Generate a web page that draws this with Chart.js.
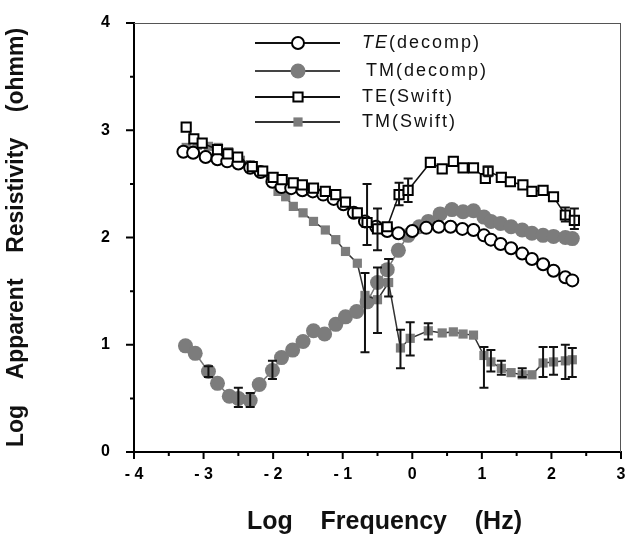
<!DOCTYPE html>
<html>
<head>
<meta charset="utf-8">
<script src="https://cdn.jsdelivr.net/npm/chart.js@4.4.0/dist/chart.umd.min.js"></script>
<style>
  html, body { margin: 0; padding: 0; background: #fff; }
</style>
</head>
<body>
<canvas id="mt_chart" width="631" height="549"></canvas>
<script>
// Log frequency (Hz) for each series
const teDecompX = [-3.29, -3.15, -2.97, -2.8, -2.66, -2.5, -2.33, -2.18, -2.01, -1.88, -1.74, -1.58, -1.43, -1.28, -1.13, -0.99, -0.84, -0.68, -0.52, -0.36, -0.2, 0.0, 0.2, 0.38, 0.55, 0.72, 0.88, 1.03, 1.13, 1.27, 1.42, 1.58, 1.72, 1.88, 2.03, 2.2, 2.3];
const teDecompY = [2.80, 2.79, 2.75, 2.73, 2.71, 2.69, 2.65, 2.61, 2.52, 2.47, 2.46, 2.44, 2.43, 2.40, 2.36, 2.31, 2.23, 2.15, 2.10, 2.06, 2.04, 2.06, 2.09, 2.10, 2.10, 2.08, 2.07, 2.02, 1.98, 1.94, 1.90, 1.85, 1.80, 1.75, 1.69, 1.63, 1.60];

const tmDecompX = [-3.26, -3.12, -2.93, -2.8, -2.63, -2.5, -2.33, -2.2, -2.01, -1.88, -1.72, -1.57, -1.42, -1.26, -1.1, -0.96, -0.8, -0.65, -0.5, -0.36, -0.2, -0.06, 0.1, 0.23, 0.4, 0.57, 0.73, 0.88, 1.03, 1.13, 1.27, 1.42, 1.58, 1.72, 1.88, 2.03, 2.2, 2.3];
const tmDecompY = [0.99, 0.92, 0.75, 0.64, 0.52, 0.50, 0.48, 0.63, 0.76, 0.88, 0.95, 1.03, 1.13, 1.10, 1.19, 1.26, 1.31, 1.40, 1.58, 1.70, 1.88, 2.02, 2.10, 2.15, 2.22, 2.26, 2.24, 2.25, 2.19, 2.15, 2.13, 2.10, 2.07, 2.04, 2.02, 2.01, 2.00, 1.99];

const teSwiftX = [-3.25, -3.14, -3.02, -2.8, -2.65, -2.51, -2.3, -2.15, -2.0, -1.87, -1.71, -1.58, -1.42, -1.25, -1.1, -0.96, -0.79, -0.65, -0.5, -0.36, -0.19, -0.06, 0.26, 0.43, 0.59, 0.73, 0.88, 1.05, 1.09, 1.28, 1.41, 1.59, 1.72, 1.88, 2.03, 2.2, 2.33];
const teSwiftY = [3.03, 2.92, 2.88, 2.82, 2.78, 2.75, 2.66, 2.62, 2.56, 2.54, 2.51, 2.49, 2.46, 2.43, 2.40, 2.33, 2.23, 2.14, 2.08, 2.10, 2.40, 2.44, 2.70, 2.64, 2.71, 2.65, 2.65, 2.55, 2.62, 2.56, 2.52, 2.49, 2.43, 2.44, 2.38, 2.21, 2.16];

const tmSwiftX = [-3.25, -3.09, -2.93, -2.79, -2.64, -2.47, -2.33, -2.18, -2.04, -1.93, -1.82, -1.71, -1.57, -1.42, -1.25, -1.1, -0.96, -0.79, -0.68, -0.5, -0.34, -0.17, -0.03, 0.23, 0.43, 0.59, 0.73, 0.88, 1.03, 1.13, 1.28, 1.42, 1.58, 1.72, 1.88, 2.03, 2.2, 2.3];
const tmSwiftY = [2.84, 2.86, 2.85, 2.84, 2.80, 2.72, 2.68, 2.61, 2.54, 2.43, 2.38, 2.29, 2.23, 2.15, 2.07, 1.98, 1.87, 1.76, 1.46, 1.42, 1.58, 0.97, 1.06, 1.13, 1.11, 1.12, 1.10, 1.09, 0.90, 0.84, 0.78, 0.74, 0.72, 0.72, 0.83, 0.84, 0.85, 0.86];

// error bars: x, low, high
const tmDecompErrX = [-2.93, -2.5, -2.33, -2.01];
const tmDecompErrLo = [0.70, 0.42, 0.42, 0.68];
const tmDecompErrHi = [0.80, 0.60, 0.55, 0.85];

const teSwiftErrX = [-0.65, -0.5, -0.19, -0.06, 1.09, 2.2, 2.33];
const teSwiftErrLo = [1.93, 1.88, 2.30, 2.33, 2.57, 2.15, 2.08];
const teSwiftErrHi = [2.50, 2.27, 2.51, 2.55, 2.66, 2.28, 2.27];

const tmSwiftErrX = [-0.68, -0.5, -0.34, -0.17, -0.03, 0.23, 1.03, 1.13, 1.28, 1.58, 1.88, 2.03, 2.2, 2.3];
const tmSwiftErrLo = [0.93, 1.11, 1.45, 0.78, 0.90, 1.05, 0.60, 0.75, 0.72, 0.70, 0.70, 0.72, 0.68, 0.70];
const tmSwiftErrHi = [1.67, 1.72, 1.80, 1.14, 1.21, 1.20, 0.98, 0.95, 0.85, 0.78, 0.98, 0.98, 1.00, 0.97];

const seriesNames = ["TE(decomp)", "TM(decomp)", "TE(Swift)", "TM(Swift)"];

const xTickMin = -4, xTickMax = 3;
const yTickMin = 0, yTickMax = 4;

const FONT = "'Liberation Sans', Arial, sans-serif";
const GRAY = "#7c7c7c";

function toPoints(xs, ys) {
  return xs.map((x, i) => ({ x: x, y: ys[i] }));
}

//--------------
//- PLUGINS -
//--------------
const errorBarsPlugin = {
  id: "errorBars",
  afterDatasetsDraw(chart) {
    const { ctx, scales } = chart;
    const sets = [
      [tmDecompErrX, tmDecompErrLo, tmDecompErrHi],
      [teSwiftErrX, teSwiftErrLo, teSwiftErrHi],
      [tmSwiftErrX, tmSwiftErrLo, tmSwiftErrHi],
    ];
    ctx.save();
    ctx.strokeStyle = "#111";
    ctx.lineWidth = 2;
    sets.forEach(([xs, lo, hi]) => {
      xs.forEach((x, i) => {
        const px = scales.x.getPixelForValue(x);
        const y1 = scales.y.getPixelForValue(lo[i]);
        const y2 = scales.y.getPixelForValue(hi[i]);
        ctx.beginPath();
        ctx.moveTo(px, y1); ctx.lineTo(px, y2);
        ctx.moveTo(px - 4.5, y1); ctx.lineTo(px + 4.5, y1);
        ctx.moveTo(px - 4.5, y2); ctx.lineTo(px + 4.5, y2);
        ctx.stroke();
      });
    });
    ctx.restore();
  }
};

const frameTicksPlugin = {
  id: "frameTicks",
  afterDraw(chart) {
    const { ctx, chartArea: a, scales } = chart;
    ctx.save();
    // thin top and right edges
    ctx.strokeStyle = "#555";
    ctx.lineWidth = 1;
    ctx.beginPath();
    ctx.moveTo(a.left, a.top + 0.5); ctx.lineTo(a.right, a.top + 0.5);
    ctx.moveTo(a.right - 0.5, a.top); ctx.lineTo(a.right - 0.5, a.bottom);
    ctx.stroke();
    // outward tick marks, longer at integers
    ctx.strokeStyle = "#000";
    ctx.lineWidth = 2;
    ctx.beginPath();
    scales.x.ticks.forEach(t => {
      const px = scales.x.getPixelForValue(t.value);
      const len = Number.isInteger(t.value) ? 7 : 4;
      ctx.moveTo(px, a.bottom); ctx.lineTo(px, a.bottom + len);
    });
    scales.y.ticks.forEach(t => {
      const py = scales.y.getPixelForValue(t.value);
      const len = Number.isInteger(t.value) ? 8 : 4;
      ctx.moveTo(a.left, py); ctx.lineTo(a.left - len, py);
    });
    ctx.stroke();
    ctx.restore();
  }
};

const insideLegendPlugin = {
  id: "insideLegend",
  afterDraw(chart) {
    const { ctx, chartArea: a } = chart;
    const rowsY = [20, 48, 74, 99];
    const lineX1 = a.left + 121, lineX2 = a.left + 206, markX = a.left + 164;
    const textX = a.left + 228;
    ctx.save();
    chart.data.datasets.forEach((ds, i) => {
      const y = a.top + rowsY[i];
      ctx.strokeStyle = i === 1 ? "#444" : ds.borderColor;
      ctx.lineWidth = 2;
      ctx.beginPath();
      ctx.moveTo(lineX1, y); ctx.lineTo(lineX2, y);
      ctx.stroke();
      const r = ds.pointRadius;
      ctx.fillStyle = ds.pointBackgroundColor;
      ctx.strokeStyle = ds.pointBorderColor;
      ctx.lineWidth = ds.pointBorderWidth;
      ctx.beginPath();
      if (ds.pointStyle === "circle") {
        ctx.arc(markX, y, r, 0, Math.PI * 2);
      } else {
        const s = Math.SQRT1_2 * r;
        ctx.rect(markX - s, y - s, 2 * s, 2 * s);
      }
      ctx.fill();
      if (ds.pointBorderWidth > 0) ctx.stroke();

      ctx.fillStyle = "#111";
      ctx.textBaseline = "middle";
      ctx.letterSpacing = "2px";
      const name = seriesNames[i];
      if (i === 0) {
        ctx.font = "italic 18px " + FONT;
        ctx.fillText("TE", textX, y);
        const w = ctx.measureText("TE").width;
        ctx.font = "18px " + FONT;
        ctx.fillText(name.slice(2), textX + w, y);
      } else {
        ctx.font = "18px " + FONT;
        ctx.fillText(name, textX + (i === 1 ? 4 : 0), y);
      }
    });
    ctx.restore();
  }
};

const datasets = [
  {
    label: seriesNames[0],
    data: toPoints(teDecompX, teDecompY),
    borderColor: "#111", borderWidth: 1.5,
    pointStyle: "circle", pointRadius: 6,
    pointBackgroundColor: "#fff", pointBorderColor: "#000", pointBorderWidth: 2,
    order: 1,
  },
  {
    label: seriesNames[1],
    data: toPoints(tmDecompX, tmDecompY),
    borderColor: "#777", borderWidth: 1.5,
    pointStyle: "circle", pointRadius: 7.5,
    pointBackgroundColor: GRAY, pointBorderColor: GRAY, pointBorderWidth: 0,
    order: 3,
  },
  {
    label: seriesNames[2],
    data: toPoints(teSwiftX, teSwiftY),
    borderColor: "#111", borderWidth: 1.5,
    pointStyle: "rect", pointRadius: 6.5,
    pointBackgroundColor: "#fff", pointBorderColor: "#000", pointBorderWidth: 2,
    order: 0,
  },
  {
    label: seriesNames[3],
    data: toPoints(tmSwiftX, tmSwiftY),
    borderColor: "#333", borderWidth: 1.5,
    pointStyle: "rect", pointRadius: 6.5,
    pointBackgroundColor: GRAY, pointBorderColor: GRAY, pointBorderWidth: 0,
    order: 2,
  },
];
datasets.forEach(ds => { ds.showLine = true; ds.pointHoverRadius = ds.pointRadius; });

const mtChart = new Chart(document.getElementById("mt_chart").getContext("2d"), {
  type: "scatter",
  data: { datasets: datasets },
  options: {
    responsive: false,
    animation: false,
    layout: { padding: { top: 23, right: 10, bottom: 0, left: 0 } },
    plugins: { legend: { display: false }, tooltip: { enabled: false } },
    scales: {
      x: {
        type: "linear", min: xTickMin, max: xTickMax,
        grid: { display: false },
        border: { display: true, color: "#000", width: 2 },
        ticks: {
          stepSize: 0.5, padding: 5, color: "#000", maxRotation: 0, autoSkip: false,
          font: { family: FONT, size: 16, weight: "bold" },
          callback: v => Number.isInteger(v) ? (v < 0 ? "- " + (-v) : String(v)) : "",
        },
        title: {
          display: true, text: "  Log    Frequency    (Hz)", color: "#111",
          font: { family: FONT, size: 25, weight: "bold" },
          padding: { top: 0, bottom: 12 },
        },
        afterFit(s) { s.height = 97; s.paddingLeft = 0; s.paddingRight = 0; },
      },
      y: {
        type: "linear", min: yTickMin, max: yTickMax,
        grid: { display: false },
        border: { display: true, color: "#000", width: 2 },
        ticks: {
          stepSize: 0.5, padding: 16, color: "#000", autoSkip: false,
          font: { family: FONT, size: 16, weight: "bold" },
          callback: v => Number.isInteger(v) ? String(v) : "",
        },
        title: {
          display: true, text: "Log    Apparent    Resistivity    (ohmm)", color: "#111",
          font: { family: FONT, size: 23, weight: "bold" },
          padding: { top: 3, bottom: 0 },
        },
        afterFit(s) { s.width = 134; s.paddingTop = 0; s.paddingBottom = 0; },
      },
    },
  },
  plugins: [errorBarsPlugin, frameTicksPlugin, insideLegendPlugin],
});
</script>
</body>
</html>
